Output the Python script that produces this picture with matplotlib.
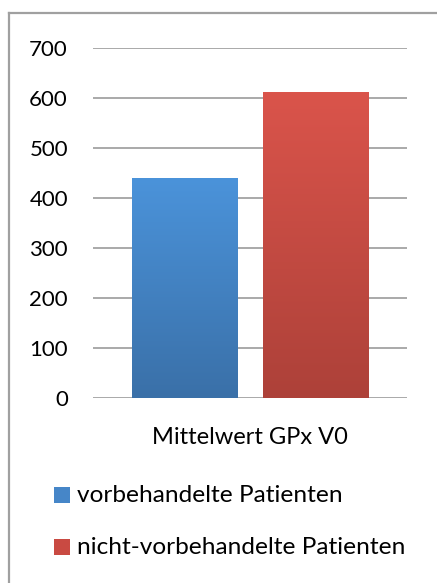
import numpy as np
import matplotlib
matplotlib.use('Agg')
import matplotlib.pyplot as plt
from matplotlib.colors import LinearSegmentedColormap
from matplotlib.patches import Rectangle
from matplotlib.lines import Line2D

plt.rcParams['font.family'] = ['Lato', 'DejaVu Sans']

# Daten
category = 'Mittelwert GPx V0'
series = ['vorbehandelte Patienten', 'nicht-vorbehandelte Patienten']
values = [440, 612]
yticks = [0, 100, 200, 300, 400, 500, 600, 700]

# Farben (oben, unten)
grad = [('#4b93da', '#3a70a8'), ('#da544b', '#ad4139')]
leg_col = ['#4686c8', '#c94a42']

W, H = 437, 583
fig = plt.figure(figsize=(W / 100, H / 100), dpi=100)
fig.patch.set_facecolor('white')

ax = fig.add_axes([93 / W, 1 - 398 / H, 314 / W, 350 / H])
x = np.arange(len(values))
bars = ax.bar(x, values, width=0.81, color='none', edgecolor='none', zorder=3)

# Verlauf in jeden Balken
g = np.linspace(0, 1, 256).reshape(-1, 1)
for b, (top, bot) in zip(bars, grad):
    cmap = LinearSegmentedColormap.from_list('g', [top, bot])
    x0, w, h = b.get_x(), b.get_width(), b.get_height()
    im = ax.imshow(g, cmap=cmap, aspect='auto', extent=[x0, x0 + w, 0, h],
                   origin='upper', zorder=3)
    im.set_clip_path(b)

ax.set_xlim(-0.705, 1.70)
ax.set_ylim(0, 700)
ax.set_yticks(yticks)
ax.set_xticks([])
ax.yaxis.grid(True, color='#a3a3a3', linewidth=1.3, zorder=0)
ax.set_axisbelow(True)
for s in ax.spines.values():
    s.set_visible(False)
ax.tick_params(axis='y', length=0, pad=18, labelsize=16, labelcolor='black')

fig.text(250 / W, 1 - 437 / H, category, ha='center', va='center', fontsize=17)

# Legende
leg_y = [495, 547]
for lab, c, yy in zip(series, leg_col, leg_y):
    fig.add_artist(Rectangle((54 / W, 1 - (yy + 8) / H), 16 / W, 16 / H,
                             transform=fig.transFigure, facecolor=c, edgecolor='none'))
    fig.text(77 / W, 1 - yy / H, lab, ha='left', va='center', fontsize=17.6)

# Rahmen
fig.add_artist(Line2D([9 / W, 1], [1 - 13 / H, 1 - 13 / H], color='#a0a0a0', linewidth=1.6))
fig.add_artist(Line2D([9 / W, 9 / W], [0, 1 - 13 / H], color='#a0a0a0', linewidth=1.6))

fig.savefig('out.png', dpi=100)
